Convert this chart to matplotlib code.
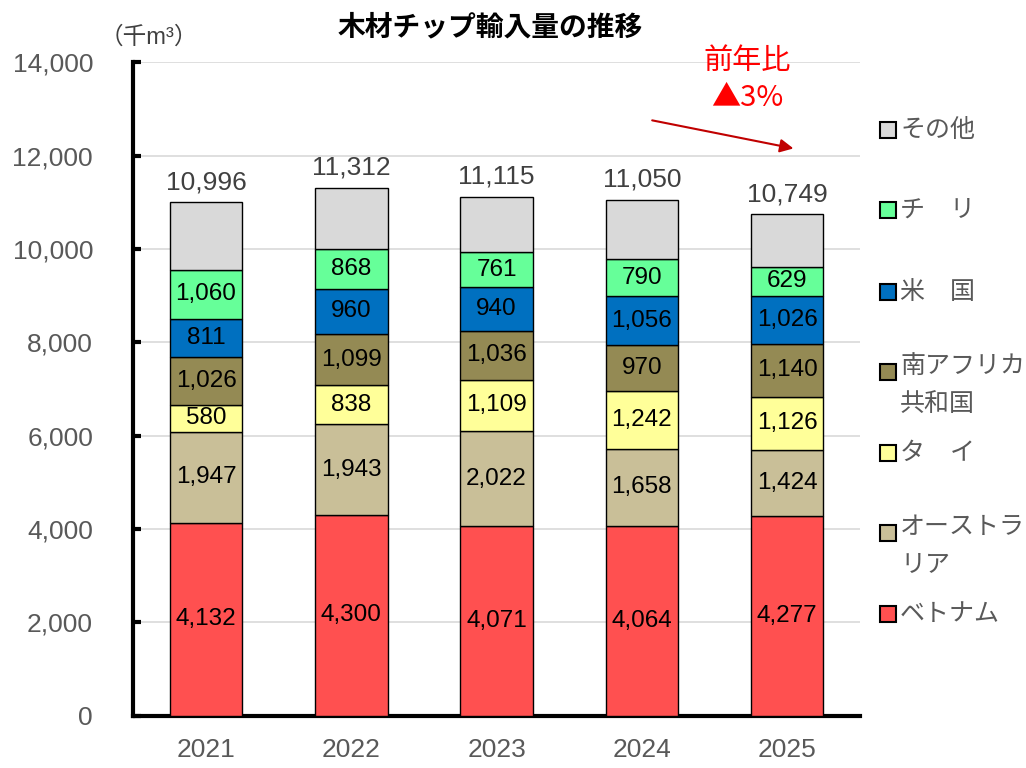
import numpy as np
import matplotlib.pyplot as plt
from matplotlib.patches import Rectangle

plt.rcParams['font.family'] = ['Liberation Sans', 'Noto Sans CJK JP', 'DejaVu Sans']

# data (thousand m3)
years = ['2021', '2022', '2023', '2024', '2025']
vietnam = [4132, 4300, 4071, 4064, 4277]
australia = [1947, 1943, 2022, 1658, 1424]
thailand = [580, 838, 1109, 1242, 1126]
south_africa = [1026, 1099, 1036, 970, 1140]
usa = [811, 960, 940, 1056, 1026]
chile = [1060, 868, 761, 790, 629]
totals = [10996, 11312, 11115, 11050, 10749]
other = [t - (a + b + c + d + e + f) for t, a, b, c, d, e, f in
         zip(totals, vietnam, australia, thailand, south_africa, usa, chile)]

series = [vietnam, australia, thailand, south_africa, usa, chile, other]
names = ['ベトナム', 'オーストラ\nリア', 'タ　イ', '南アフリカ\n共和国', '米　国', 'チ　リ', 'その他']
colors = ['#FF5050', '#C9BF98', '#FFFF99', '#948A54', '#0070C0', '#66FF99', '#D9D9D9']
show_label = [True, True, True, True, True, True, False]

fig = plt.figure(figsize=(10.26, 7.68), dpi=100)
ax = fig.add_axes([0.130, 0.068, 0.708, 0.851])

x = np.arange(len(years))
bottom = np.zeros(len(years))
for vals, col, lab in zip(series, colors, show_label):
    ax.bar(x, vals, width=0.5, bottom=bottom, color=col, edgecolor='black', linewidth=1, zorder=3)
    if lab:
        for xi, b, v in zip(x, bottom, vals):
            ax.text(xi, b + v / 2, f'{v:,}', ha='center', va='center', fontsize=17.5, color='black', zorder=4)
    bottom += np.array(vals)

for xi, t in zip(x, totals):
    ax.text(xi, t + 170, f'{t:,}', ha='center', va='bottom', fontsize=19, color='#404040')

ax.set_xlim(-0.5, 4.5)
ax.set_ylim(0, 14000)
ax.set_yticks(np.arange(0, 14001, 2000))
ax.set_yticklabels([f'{v:,}' for v in range(0, 14001, 2000)])
ax.set_xticks(x)
ax.set_xticklabels(years)
ax.tick_params(axis='y', direction='in', length=6, width=3, labelsize=19, labelcolor='#595959', pad=29)
ax.tick_params(axis='x', length=0, labelsize=19, labelcolor='#595959', pad=16)
ax.grid(axis='y', color='#D9D9D9', linewidth=1.2, zorder=0)
for s in ['top', 'right']:
    ax.spines[s].set_visible(False)
ax.spines['left'].set_linewidth(3)
ax.spines['bottom'].set_linewidth(3)

fig.text(0.478, 0.963, '木材チップ輸入量の推移', ha='center', va='center', fontsize=20, fontweight='bold')
fig.text(0.145, 0.951, '（千m³）', ha='center', va='center', fontsize=17, color='#404040')

# year-on-year note
fig.text(0.728, 0.921, '前年比', ha='center', va='center', fontsize=21, color='red')
fig.text(0.728, 0.873, '▲3%', ha='center', va='center', fontsize=21, color='red',
         family=['Noto Sans CJK JP', 'DejaVu Sans'])
ax.annotate('', xy=(0.776, 0.806), xytext=(0.633, 0.844), xycoords='figure fraction',
            arrowprops=dict(arrowstyle='-|>', color='#C00000', lw=1.5, mutation_scale=20))

# legend drawn by hand
leg_y = [614, 533, 453, 372, 292, 210, 130]
for name, col, yy in zip(names, colors, leg_y):
    fy = 1 - yy / 768
    fig.add_artist(Rectangle((880 / 1026, fy - 0.011), 0.0155, 0.021, transform=fig.transFigure,
                             facecolor=col, edgecolor='black', linewidth=1.5))
    fig.text(900 / 1026, fy + (0.024 if '\n' in name else 0), name, ha='left',
             va='top' if '\n' in name else 'center',
             fontsize=18, color='#595959', linespacing=1.75,
             transform=fig.transFigure)

fig.savefig('out.png', dpi=100)
